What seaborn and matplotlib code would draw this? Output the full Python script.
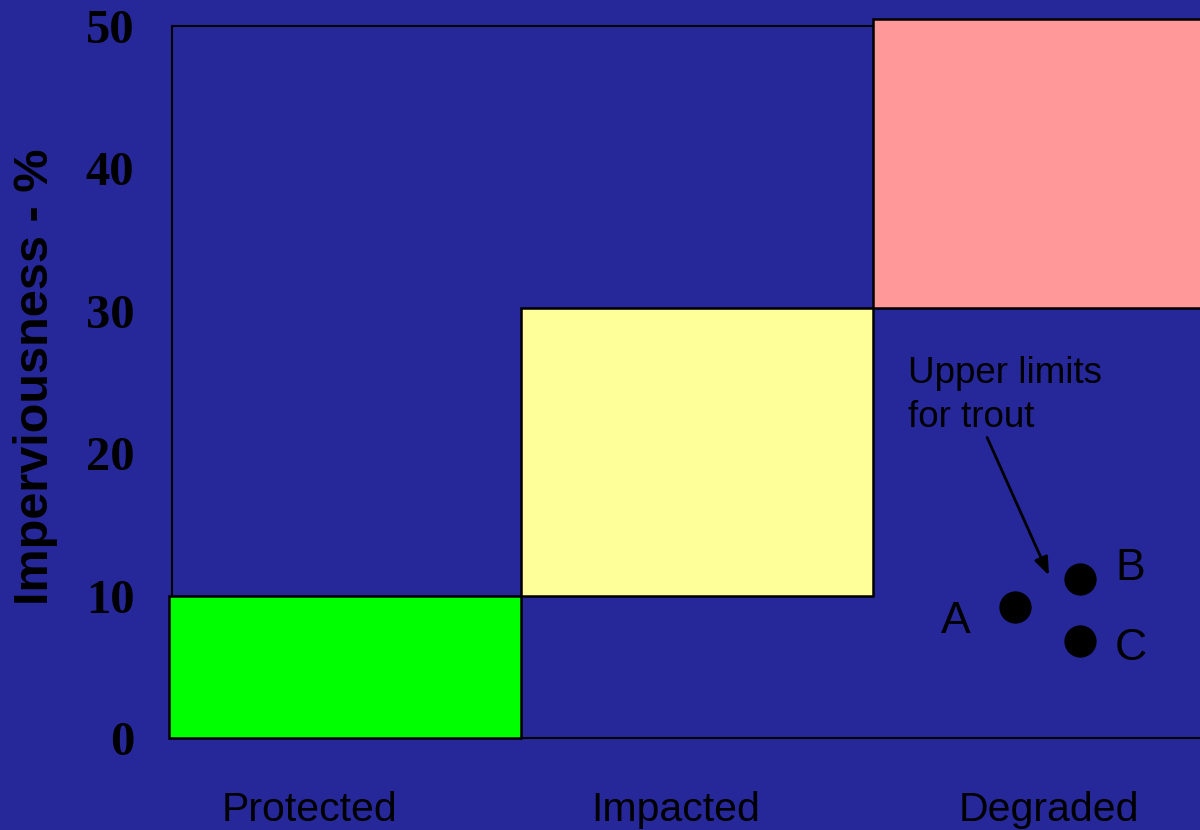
import matplotlib
matplotlib.use("Agg")
import matplotlib.pyplot as plt
import seaborn as sns
import pandas as pd

# ---- data ----
categories = ["Protected", "Impacted", "Degraded"]
zone_low = [0, 10, 30.2]
zone_high = [10, 30.2, 50.5]
zone_colors = ["#00FF00", "#FFFF99", "#FF9999"]
cat_label_pos = [0.40, 1.44, 2.50]

stream_names = ["A", "B", "C"]
stream_x = [2.403, 2.588, 2.588]
stream_y = [9.2, 11.2, 6.8]
name_x = [2.236, 2.73, 2.733]
name_y = [8.2, 11.9, 6.3]

y_ticks = [0, 10, 20, 30, 40, 50]

BG = "#26289A"

sns.set_theme(style="white")
plt.rcParams["font.family"] = ["Liberation Sans", "DejaVu Sans"]

fig = plt.figure(figsize=(12, 8.3), dpi=100, facecolor=BG)
ax = fig.add_axes([169 / 1200, 92 / 830, 1031 / 1200, 712 / 830])
ax.set_facecolor(BG)
ax.set_xlim(0, 1031 / 352)
ax.set_ylim(0, 50)

# outline frame (0-50 over all zones)
ax.add_patch(plt.Rectangle((0.0085, 0), 5, 50, facecolor="none",
                           edgecolor="black", lw=1.5, clip_on=False, zorder=1))

# zone boxes
for i, (lo, hi, c) in enumerate(zip(zone_low, zone_high, zone_colors)):
    ax.bar(i + 0.5, hi - lo, bottom=lo, width=1.0, color=c,
           edgecolor="black", linewidth=1.8, clip_on=False, zorder=2)

# stream points
df = pd.DataFrame({"x": stream_x, "y": stream_y, "name": stream_names})
sns.scatterplot(data=df, x="x", y="y", ax=ax, color="black", s=540,
                edgecolor="black", linewidth=0, zorder=4, legend=False)
for n, tx, ty in zip(stream_names, name_x, name_y):
    ax.text(tx, ty, n, fontsize=32, ha="center", va="center", color="black", zorder=5)

ax.text(2.099, 26.8, "Upper limits\nfor trout", fontsize=26.5, ha="left", va="top",
        color="black", linespacing=1.32, zorder=5)
ax.annotate("", xy=(2.503, 11.24), xytext=(2.321, 21.28),
            arrowprops=dict(arrowstyle="-|>,head_length=0.9,head_width=0.35",
                            color="black", lw=2), zorder=5)

# axes styling
for s in ax.spines.values():
    s.set_visible(False)
ax.set_xticks(cat_label_pos)
ax.set_xticklabels(categories, fontsize=29.5, color="black")
ax.set_yticks(y_ticks)
ax.set_yticklabels([str(t) for t in y_ticks], fontsize=35, fontweight="bold",
                   color="black", family=["Liberation Serif", "DejaVu Serif"])
ax.tick_params(axis="x", length=0, pad=38)
ax.tick_params(axis="y", length=0, pad=25)
ax.set_xlabel("")
ax.set_ylabel("")
ax.grid(False)

fig.text(36 / 1200, 1 - 377 / 830, "Imperviousness - %", rotation=90,
         ha="center", va="center", fontsize=35, fontweight="bold", color="black")

fig.savefig("out.png", dpi=100, facecolor=BG)
